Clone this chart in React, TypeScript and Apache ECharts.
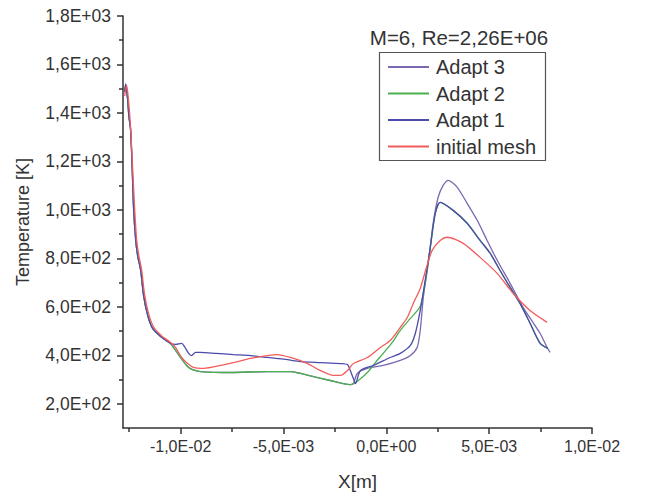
import React, { useEffect, useRef } from "react";
import * as echarts from "echarts";

// ---- Data (x in metres, temperature in K) ----
const seriesNames = ["Adapt 3", "Adapt 2", "Adapt 1", "initial mesh"];
const seriesColors = ["#7b68b0", "#4caf50", "#4b4bab", "#f25c5c"];

const adapt3: [number, number][] = [
  [-12.72e-3, 1486], [-12.67e-3, 1519], [-12.57e-3, 1453], [-12.52e-3, 1391], [-12.43e-3, 1329],
  [-12.35e-3, 1164], [-12.28e-3, 998], [-12.18e-3, 874], [-12.09e-3, 812], [-11.94e-3, 750],
  [-11.8e-3, 647], [-11.6e-3, 565], [-11.36e-3, 511], [-10.97e-3, 478], [-10.49e-3, 449],
  [-10.34e-3, 432], [-10.1e-3, 403], [-9.9e-3, 379], [-9.66e-3, 354], [-9.42e-3, 341],
  [-9.03e-3, 333], [-7.57e-3, 329], [-5.78e-3, 333], [-4.66e-3, 333], [-4.17e-3, 325],
  [-3.54e-3, 312], [-2.72e-3, 296], [-2.09e-3, 283], [-1.75e-3, 279], [-1.6e-3, 283],
  [-1.41e-3, 325], [-0.92e-3, 346], [-0.15e-3, 358], [0.68e-3, 379], [1.17e-3, 399],
  [1.5e-3, 432], [1.65e-3, 503], [1.8e-3, 639], [2.04e-3, 779], [2.28e-3, 945],
  [2.52e-3, 1052], [2.77e-3, 1102], [3.01e-3, 1122], [3.45e-3, 1093], [3.93e-3, 1027],
  [4.42e-3, 957], [4.9e-3, 874], [5.39e-3, 792], [6.02e-3, 697], [6.65e-3, 598],
  [7.48e-3, 490], [7.82e-3, 432], [7.96e-3, 412],
];

const adapt2: [number, number][] = [
  [-12.72e-3, 1486], [-12.67e-3, 1519], [-12.57e-3, 1453], [-12.52e-3, 1391], [-12.43e-3, 1329],
  [-12.35e-3, 1164], [-12.28e-3, 998], [-12.18e-3, 874], [-12.09e-3, 812], [-11.94e-3, 750],
  [-11.8e-3, 647], [-11.6e-3, 565], [-11.36e-3, 511], [-10.97e-3, 478], [-10.49e-3, 449],
  [-10.34e-3, 432], [-10.1e-3, 403], [-9.9e-3, 379], [-9.66e-3, 354], [-9.42e-3, 341],
  [-9.03e-3, 333], [-7.57e-3, 329], [-5.78e-3, 333], [-4.66e-3, 333], [-4.17e-3, 325],
  [-3.54e-3, 312], [-2.72e-3, 296], [-2.09e-3, 283], [-1.75e-3, 279], [-1.6e-3, 283],
  [-1.36e-3, 296], [-0.92e-3, 329], [-0.53e-3, 370], [-0.15e-3, 408], [0.29e-3, 453],
  [0.68e-3, 503], [1.17e-3, 552], [1.65e-3, 602], [1.89e-3, 701], [2.14e-3, 846],
  [2.38e-3, 986], [2.62e-3, 1031], [3.25e-3, 998], [3.93e-3, 945], [4.56e-3, 874],
  [5.05e-3, 821], [5.53e-3, 750], [6.02e-3, 680], [6.5e-3, 614], [6.99e-3, 532],
  [7.48e-3, 449], [7.86e-3, 428],
];

const adapt1: [number, number][] = [
  [-12.72e-3, 1486], [-12.67e-3, 1519], [-12.57e-3, 1453], [-12.52e-3, 1391], [-12.43e-3, 1329],
  [-12.35e-3, 1164], [-12.28e-3, 998], [-12.18e-3, 874], [-12.09e-3, 812], [-11.94e-3, 750],
  [-11.8e-3, 647], [-11.6e-3, 565], [-11.36e-3, 511], [-10.97e-3, 478], [-10.49e-3, 449],
  [-10.24e-3, 445], [-9.95e-3, 449], [-9.81e-3, 436], [-9.61e-3, 408], [-9.47e-3, 399],
  [-9.27e-3, 412], [-9.03e-3, 412], [-8.3e-3, 408], [-7.43e-3, 403], [-6.6e-3, 399],
  [-5.78e-3, 391], [-4.9e-3, 383], [-4.17e-3, 374], [-3.2e-3, 370], [-2.23e-3, 366],
  [-1.89e-3, 362], [-1.75e-3, 337], [-1.6e-3, 304], [-1.5e-3, 283], [-1.26e-3, 337],
  [-0.63e-3, 358], [0.19e-3, 391], [0.68e-3, 408], [1.17e-3, 441], [1.41e-3, 490],
  [1.65e-3, 585], [1.89e-3, 709], [2.14e-3, 846], [2.38e-3, 986], [2.62e-3, 1031],
  [3.25e-3, 998], [3.93e-3, 945], [4.56e-3, 874], [5.05e-3, 821], [5.53e-3, 750],
  [6.02e-3, 680], [6.5e-3, 614], [6.99e-3, 532], [7.48e-3, 449], [7.86e-3, 428],
];

const initialMesh: [number, number][] = [
  [-12.72e-3, 1470], [-12.62e-3, 1515], [-12.52e-3, 1440], [-12.43e-3, 1340], [-12.33e-3, 1170],
  [-12.23e-3, 1000], [-12.14e-3, 880], [-12.04e-3, 815], [-11.89e-3, 750], [-11.75e-3, 650],
  [-11.55e-3, 570], [-11.3e-3, 515], [-10.92e-3, 480], [-10.44e-3, 450], [-10.24e-3, 432],
  [-9.95e-3, 391], [-9.66e-3, 366], [-9.37e-3, 350], [-8.88e-3, 346], [-8.06e-3, 358],
  [-7.43e-3, 370], [-6.6e-3, 387], [-5.78e-3, 399], [-5.29e-3, 403], [-4.66e-3, 391],
  [-3.83e-3, 366], [-3.2e-3, 337], [-2.57e-3, 317], [-2.23e-3, 317], [-1.89e-3, 337],
  [-1.6e-3, 366], [-0.92e-3, 391], [-0.29e-3, 432], [0.19e-3, 461], [0.68e-3, 515],
  [1.02e-3, 556], [1.31e-3, 614], [1.65e-3, 676], [1.94e-3, 759], [2.23e-3, 833],
  [2.62e-3, 874], [2.96e-3, 887], [3.74e-3, 862], [4.56e-3, 804], [5.39e-3, 738],
  [6.17e-3, 655], [6.99e-3, 585], [7.82e-3, 536],
];

const seriesData = [adapt3, adapt2, adapt1, initialMesh];

const X_MIN = -0.0128;
const X_MAX = 0.01;
const X_TICKS = [-0.01, -0.005, 0, 0.005, 0.01];
const X_MINOR = [-0.0125, -0.0075, -0.0025, 0.0025, 0.0075];
const Y_MIN = 100;
const Y_MAX = 1800;
const Y_TICKS = [200, 400, 600, 800, 1000, 1200, 1400, 1600, 1800];
const Y_MINOR = [300, 500, 700, 900, 1100, 1300, 1500, 1700];

const TITLE = "M=6, Re=2,26E+06";

const FONT = '"Liberation Sans", Arial, sans-serif';
const TXT = "#333";

function fmt(v: number): string {
  const s = v.toExponential(1);
  const [m, e] = s.split("e");
  const en = parseInt(e, 10);
  const sign = en < 0 ? "-" : "+";
  return m.replace(".", ",") + "E" + sign + String(Math.abs(en)).padStart(2, "0");
}

export default function App() {
  const ref = useRef<HTMLDivElement>(null);

  useEffect(() => {
    document.body.style.margin = "0";
    if (!ref.current) return;
    const chart = echarts.init(ref.current, null, { renderer: "svg" });

    const axisLineStyle = { color: TXT, width: 1.5 };

    const option: any = {
      animation: false,
      backgroundColor: "#fff",
      grid: { left: 123, right: 75, top: 16, bottom: 69, containLabel: false },
      xAxis: [
        {
          type: "value",
          min: X_MIN,
          max: X_MAX,
          position: "bottom",
          name: "X[m]",
          nameLocation: "middle",
          nameGap: 44,
          nameTextStyle: { fontSize: 19, color: TXT, fontFamily: FONT },
          axisLine: { show: true, onZero: false, lineStyle: axisLineStyle },
          axisTick: { show: true, customValues: X_TICKS, length: 6, lineStyle: axisLineStyle },
          axisLabel: { customValues: X_TICKS, formatter: fmt, fontSize: 16, color: TXT, margin: 10, fontFamily: FONT },
          splitLine: { show: false },
        },
        {
          type: "value",
          min: X_MIN,
          max: X_MAX,
          position: "bottom",
          axisLine: { show: false, onZero: false },
          axisTick: { show: true, customValues: X_MINOR, length: 4, lineStyle: axisLineStyle },
          axisLabel: { show: false },
          splitLine: { show: false },
        },
      ],
      yAxis: [
        {
          type: "value",
          min: Y_MIN,
          max: Y_MAX,
          position: "left",
          name: "Temperature [K]",
          nameLocation: "middle",
          nameGap: 91,
          nameRotate: 90,
          nameTextStyle: { fontSize: 18, color: TXT, fontFamily: FONT },
          axisLine: { show: true, onZero: false, lineStyle: axisLineStyle },
          axisTick: { show: true, customValues: Y_TICKS, length: 6, lineStyle: axisLineStyle },
          axisLabel: { customValues: Y_TICKS, formatter: fmt, fontSize: 17.5, color: TXT, margin: 12, fontFamily: FONT },
          splitLine: { show: false },
        },
        {
          type: "value",
          min: Y_MIN,
          max: Y_MAX,
          position: "left",
          axisLine: { show: false, onZero: false },
          axisTick: { show: true, customValues: Y_MINOR, length: 4, lineStyle: axisLineStyle },
          axisLabel: { show: false },
          splitLine: { show: false },
        },
      ],
      legend: {
        orient: "vertical",
        left: 379,
        top: 52,
        padding: [5, 6, 4, 8],
        itemWidth: 41,
        itemHeight: 20,
        itemGap: 6.5,
        data: seriesNames,
        itemStyle: { opacity: 0 },
        textStyle: { fontSize: 20, color: TXT, fontFamily: FONT, lineHeight: 20, padding: [0, 0, 0, 2] },
      },
      graphic: [
        {
          type: "rect",
          shape: { x: 379.5, y: 52.5, width: 166, height: 108 },
          style: { fill: "none", stroke: "#555", lineWidth: 1.2 },
          silent: true,
          z: 100,
        },
        {
          type: "text",
          x: 459,
          y: 37,
          style: {
            text: TITLE,
            fontSize: 20.5,
            fontFamily: FONT,
            fill: TXT,
            textAlign: "center",
            textVerticalAlign: "middle",
          },
          z: 100,
        },
      ],
      series: seriesNames.map((name, i) => ({
        name,
        type: "line",
        xAxisIndex: 0,
        yAxisIndex: 0,
        data: seriesData[i],
        symbol: "none",
        smooth: 0.25,
        lineStyle: { width: 1.3, color: seriesColors[i] },
        itemStyle: { color: seriesColors[i] },
      })),
    };

    chart.setOption(option);
    return () => chart.dispose();
  }, []);

  return <div ref={ref} style={{ width: 667, height: 497 }} />;
}
